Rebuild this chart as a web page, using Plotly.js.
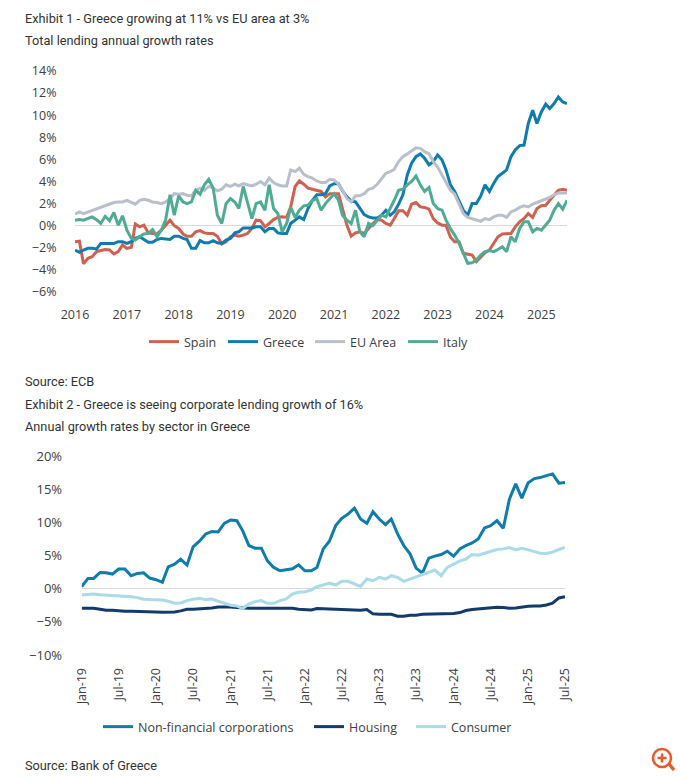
<!DOCTYPE html>
<html>
<head>
<meta charset="utf-8">
<script src="https://cdn.plot.ly/plotly-3.0.1.min.js"></script>
<style>html,body{margin:0;padding:0;background:#fff}</style>
</head>
<body>
<div id="chart" style="width:680px;height:777px"></div>
<script>
const spain = [
-1.45,-1.4,-3.45,-2.95,-2.8,-2.35,-2.25,-2.15,-2.2,-2.55,-2.35,-1.75,
-2.05,-1.95,.15,-.1,.05,-.65,-.7,-.75,-.4,.05,.5,0,
-.25,-.75,-.95,-.95,-.55,-.45,-.65,-.7,-.7,-.95,-1.65,-1.45,
-1.0,-.85,-.95,-.85,-.7,-.25,.5,.45,-.1,.2,.55,.75,
.8,.75,1.7,3.55,4.05,3.75,3.4,3.3,3.2,3.1,2.6,2.9,
2.9,2.9,1.55,.05,-.95,-.65,-.55,-.7,-.25,.2,.55,.5,
.2,.05,.65,1.35,1.35,.95,1.95,2.1,1.7,1.65,1.5,.65,
.25,.05,.05,-1.05,-1.45,-1.45,-2.5,-2.55,-2.65,-3.25,-2.8,-2.45,
-2.2,-1.6,-1.0,-.75,-.7,-.7,-.1,.35,.65,1.1,.75,1.55,
1.8,1.85,2.3,2.8,3.2,3.3,3.2];
const greece = [
-2.2,-2.4,-2.2,-2.05,-2.05,-2.1,-1.6,-1.6,-1.6,-1.6,-1.45,-1.45,
-1.6,-1.45,-1.15,-1.0,-1.25,-1.5,-1.5,-1.25,-1.15,-1.2,-1.25,-0.95,
-0.95,-1.15,-1.25,-2.05,-2.05,-1.35,-1.55,-1.55,-1.35,-1.55,-1.6,-1.3,
-1.15,-0.65,-0.55,-0.2,-0.2,-0.2,-0.1,-0.1,-0.55,-0.25,-0.25,-0.65,
-0.7,-0.7,0.2,0.5,0.8,0.55,1.55,2.3,2.8,2.8,2.9,3.6,
3.8,3.8,3.15,2.6,2.25,2.15,1.55,1.0,.8,.7,.7,.95,
1.4,.95,1.25,1.95,2.8,4.6,5.65,6.25,6.5,6.1,5.5,5.8,
6.4,5.95,5.05,3.7,3.1,2.3,1.4,.95,2.0,2.0,2.7,3.7,
3.1,3.85,4.45,4.75,5.05,6.25,6.85,7.25,7.3,9.25,10.45,9.25,
10.3,11.0,10.6,11.05,11.65,11.2,11.05];
const euArea = [
1.05,1.25,1.1,1.25,1.4,1.55,1.7,1.85,2.0,2.1,2.15,2.15,
2.3,2.1,1.95,2.3,2.4,2.3,2.15,2.1,2.0,2.15,2.45,2.9,
2.85,2.9,2.75,2.7,3.2,3.4,3.2,3.55,3.4,3.15,3.3,3.7,
3.55,3.75,3.6,3.8,3.7,3.6,3.75,4.0,3.7,4.3,3.9,3.7,
3.6,3.6,5.05,4.9,5.2,4.65,4.45,4.3,4.05,3.9,3.9,4.2,
4.15,3.75,3.2,2.45,2.15,2.7,2.7,2.9,3.3,3.4,3.75,4.2,
4.75,4.9,5.1,5.8,6.25,6.5,6.8,7.05,7.0,6.7,6.5,5.8,
5.3,4.6,4.0,3.2,2.85,2.0,1.1,.75,.65,.5,.4,.65,
.55,.8,.95,.95,.75,1.25,1.4,1.65,1.8,1.7,1.95,2.1,
2.25,2.4,2.55,2.8,2.95,2.95,2.95];
const italy = [
.5,.55,.5,.65,.8,.55,.2,.85,.45,1.2,.05,.9,
-.4,-1.15,-1.3,-1.0,-.75,-.7,-.35,-1.0,-.4,.5,2.8,.95,
2.7,2.15,2.0,2.15,3.2,2.85,3.7,4.2,3.4,.95,.2,2.0,
2.45,2.15,1.55,3.55,2.15,.65,2.0,2.15,1.4,3.7,1.55,1.1,
-.55,.2,1.65,.75,1.4,1.8,1.85,2.3,2.45,1.4,2.0,2.45,
2.9,2.3,.95,.5,.2,1.4,-.55,-1.0,.2,0,.5,.95,
.8,1.55,2.3,3.2,3.3,3.7,4.0,4.5,3.7,3.1,3.45,2.0,
1.55,1.4,.5,-.25,-.85,-1.6,-2.5,-3.4,-3.35,-3.1,-2.65,-2.35,
-2.25,-2.35,-2.15,-1.9,-2.35,-1.0,-1.45,-.25,.35,.35,-.55,-.25,
-.4,.05,.5,1.4,2.0,1.5,2.3];
const nonFinancial = [
.3,1.55,1.55,2.45,2.4,2.2,2.95,2.95,1.95,2.3,2.4,1.6,
1.35,.95,3.3,3.7,4.45,3.55,6.3,7.15,8.25,8.6,8.55,9.85,
10.35,10.25,8.75,6.5,6.1,6.1,4.2,3.2,2.7,2.8,3.0,3.6,
2.7,2.7,3.2,6.0,7.15,9.5,10.6,11.25,12.15,10.5,9.85,11.6,
10.5,9.65,10.5,8.25,6.5,5.25,3.1,2.35,4.6,4.9,5.15,5.65,
4.9,6.0,6.5,6.9,7.5,9.15,9.5,10.25,9.1,13.5,15.8,13.65,
15.95,16.6,16.75,17.05,17.3,15.9,16.0];
const housing = [
-2.95,-2.95,-2.95,-3.1,-3.25,-3.25,-3.35,-3.4,-3.4,-3.4,-3.4,-3.4,
-3.5,-3.55,-3.55,-3.5,-3.35,-3.1,-3.1,-3.05,-2.95,-2.9,-2.75,-2.7,
-2.75,-2.85,-2.95,-2.95,-2.95,-2.95,-2.95,-2.95,-2.95,-2.95,-2.95,-3.1,
-3.2,-3.2,-3.0,-3.05,-3.1,-3.1,-3.2,-3.25,-3.25,-3.25,-3.15,-3.8,
-3.85,-3.85,-3.85,-4.15,-4.15,-4.0,-4.0,-3.85,-3.85,-3.85,-3.75,-3.75,
-3.75,-3.6,-3.3,-3.15,-3.05,-2.95,-2.9,-2.8,-2.85,-2.95,-2.9,-2.75,
-2.65,-2.6,-2.6,-2.45,-2.2,-1.4,-1.2];
const consumer = [
-.95,-.9,-.8,-.9,-.95,-1.05,-1.1,-1.1,-1.2,-1.35,-1.6,-1.65,
-1.65,-1.7,-1.9,-2.2,-2.15,-1.8,-1.6,-1.45,-1.65,-1.55,-1.9,-2.2,
-2.5,-2.6,-3.0,-2.3,-1.95,-1.8,-2.2,-2.2,-1.8,-1.55,-.8,-.55,
-.45,-.2,.3,.55,.85,.55,1.1,1.1,.7,.35,1.45,1.2,
1.7,1.45,1.95,1.7,1.1,1.45,1.8,2.1,2.5,2.8,1.95,3.2,
3.7,4.2,4.45,5.15,5.05,5.35,5.6,5.9,6.0,6.2,5.85,6.1,
5.85,5.6,5.35,5.3,5.5,5.9,6.2];

function months(startYear, n) {
  const out = [];
  for (let i = 0; i < n; i++) {
    const y = startYear + Math.floor(i / 12), m = (i % 12) + 1;
    out.push(y + '-' + String(m).padStart(2, '0') + '-01');
  }
  return out;
}
const x1 = months(2016, spain.length);
const x2 = months(2019, nonFinancial.length);

const W = 680, H = 777;
const px = v => v / W, py = v => 1 - v / H;
const FONT = '"Open Sans", sans-serif';
const TITLE_FONT = 'Roboto, sans-serif';
const TXT = '#404040';

function line(name, x, y, color, xa, ya, legend) {
  return {type:'scatter', mode:'lines', name, x, y, xaxis:xa, yaxis:ya, legend,
          line:{color, width:3}, hoverinfo:'skip'};
}
const data = [
  line('Spain', x1, spain, '#d1604f', 'x', 'y', 'legend'),
  line('Greece', x1, greece, '#0f7cb0', 'x', 'y', 'legend2'),
  line('EU Area', x1, euArea, '#b9bfcd', 'x', 'y', 'legend3'),
  line('Italy', x1, italy, '#4fac94', 'x', 'y', 'legend4'),
  line('Non-financial corporations', x2, nonFinancial, '#0f7cab', 'x2', 'y2', 'legend5'),
  line('Housing', x2, housing, '#123a6b', 'x2', 'y2', 'legend6'),
  line('Consumer', x2, consumer, '#abdbe9', 'x2', 'y2', 'legend7')
];

const tickFont = {family:FONT, size:12.5, color:TXT};
const zero = {zeroline:true, zerolinecolor:'#d9d9d9', zerolinewidth:1, showgrid:false, showline:false};
function note(text, yPix) {
  return {text, xref:'paper', yref:'paper', x:px(23), y:py(yPix), xanchor:'left', yanchor:'middle',
          showarrow:false, font:{family:TITLE_FONT, size:12.75, color:'#333333'}};
}
function leg(xPix, yPix) {
  return {orientation:'h', x:px(xPix), y:py(yPix), xanchor:'left', yanchor:'middle', itemwidth:30,
          font:{family:FONT, size:12.5, color:TXT}, bgcolor:'rgba(0,0,0,0)'};
}
const ICON = '#e8592b';
const layout = {
  width:W, height:H, margin:{l:0,r:0,t:0,b:0}, paper_bgcolor:'#fff', plot_bgcolor:'#fff',
  showlegend:true,
  xaxis:{domain:[px(75),px(567)], range:[x1[0], x1[x1.length-1]], type:'date', anchor:'y',
         tick0:'2016-01-01', dtick:'M12', tickformat:'%Y', ticks:'outside', ticklen:11,
         tickcolor:'rgba(0,0,0,0)', tickfont:tickFont, showgrid:false, zeroline:false, showline:false},
  yaxis:{domain:[py(292),py(71)], range:[-6,14], dtick:2, ticksuffix:'%', anchor:'x', ticks:'outside',
         ticklen:15, tickcolor:'rgba(0,0,0,0)', tickfont:tickFont, ...zero},
  xaxis2:{domain:[px(81.7),px(565)], range:[x2[0], x2[x2.length-1]], type:'date', anchor:'y2',
         tick0:'2019-01-01', dtick:'M6', tickformat:'%b-%y', tickangle:-90, ticks:'outside', ticklen:7,
         tickcolor:'rgba(0,0,0,0)', tickfont:{family:FONT, size:12.5, color:TXT}, showgrid:false, zeroline:false, showline:false},
  yaxis2:{domain:[py(655),py(456)], range:[-10,20], dtick:5, ticksuffix:'%', anchor:'x2', ticks:'outside',
         ticklen:16, tickcolor:'rgba(0,0,0,0)', tickfont:{family:FONT, size:13, color:TXT}, ...zero},
  legend:leg(144,342), legend2:leg(223,342), legend3:leg(310,342), legend4:leg(403,342),
  legend5:leg(98,727), legend6:leg(309,727), legend7:leg(411,727),
  annotations:[
    note('Exhibit 1 - Greece growing at 11% vs EU area at 3%', 19),
    note('Total lending annual growth rates', 41),
    note('Source: ECB', 381),
    note('Exhibit 2 - Greece is seeing corporate lending growth of 16%', 404),
    note('Annual growth rates by sector in Greece', 426),
    note('Source: Bank of Greece', 765)
  ],
  shapes:[
    {type:'circle', xref:'paper', yref:'paper', x0:px(653), x1:px(671), y0:py(767), y1:py(749), line:{color:ICON, width:2.5}},
    {type:'line', xref:'paper', yref:'paper', x0:px(669), y0:py(764), x1:px(674), y1:py(770), line:{color:ICON, width:3.5}},
    {type:'line', xref:'paper', yref:'paper', x0:px(657.5), y0:py(758), x1:px(666.5), y1:py(758), line:{color:ICON, width:2.5}},
    {type:'line', xref:'paper', yref:'paper', x0:px(662), y0:py(753.5), x1:px(662), y1:py(762.5), line:{color:ICON, width:2.5}}
  ]
};
Plotly.newPlot('chart', data, layout, {displayModeBar:false, staticPlot:true});
</script>
</body>
</html>
